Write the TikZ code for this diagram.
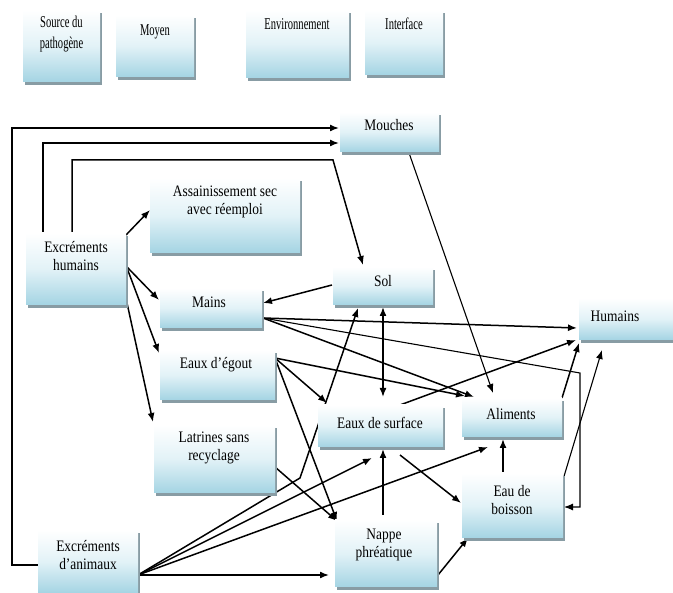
\documentclass[tikz,border=0pt]{standalone}
\usepackage{fontspec}
\newfontfamily\bxfont{Liberation Serif}[FakeStretch=0.84]
\newfontfamily\hdfont{Liberation Serif}[FakeStretch=0.64]
\usetikzlibrary{arrows.meta,shadows,backgrounds}
\definecolor{boxblue}{RGB}{164,212,227}
\definecolor{boxmid}{RGB}{226,242,247}
\definecolor{shc}{RGB}{136,156,164}
\tikzset{
  bx/.style={anchor=north west, inner sep=0pt, outer sep=0pt,
    top color=white, bottom color=boxblue, middle color=boxmid,
    drop shadow={shadow xshift=1.5pt, shadow yshift=-3pt, fill=shc, opacity=1}},
  lbl/.style={font=\bxfont\fontsize{16}{18.5}\selectfont, align=center, inner sep=0pt},
  hd/.style={font=\hdfont\fontsize{16.5}{21}\selectfont, align=center, inner sep=0pt},
  ar/.style={line width=1.5pt, -{Latex[length=9pt,width=7pt]}},
  tn/.style={line width=1.1pt, -{Latex[length=9pt,width=7pt]}},
  dar/.style={line width=1.5pt, {Latex[length=9pt,width=7pt]}-{Latex[length=9pt,width=7pt]}},
}
\newcommand\mkbox[9]{%
  \expandafter\gdef\csname bxX#1\endcsname{#2}%
  \expandafter\gdef\csname bxY#1\endcsname{#3}%
  \node[bx, minimum width=#4pt, minimum height=#5pt] (#1) at (#2,#3) {};
  \node[#8] (#1t) at (#6,#7) {#9};
}
\newcommand\pt[3]{([shift={(#2-\csname bxX#1\endcsname,#3-\csname bxY#1\endcsname)}]#1.north west)}
\begin{document}
\begin{tikzpicture}[x=1pt,y=-1pt]
\useasboundingbox (0,0) rectangle (673,593);
% header row
\mkbox{src}{23}{10}{77}{72}{61.5}{34.5}{hd}{Source du\\pathogène}
\mkbox{moy}{116}{15}{78}{62}{155}{32}{hd}{Moyen}
\mkbox{env}{246}{10}{103}{68}{297}{24}{hd}{Environnement}
\mkbox{itf}{365}{10}{78}{65}{404}{24}{hd}{Interface}
% main boxes
\mkbox{mou}{340}{112}{99}{40}{389}{125}{lbl}{Mouches}
\mkbox{sol}{333}{267}{100}{38}{383}{281}{lbl}{Sol}
\mkbox{hum}{579}{298}{94}{42}{615}{316}{lbl}{Humains}
\mkbox{ass}{150}{178}{150}{75}{225}{202}{lbl}{Assainissement sec\\avec réemploi}
\mkbox{exh}{26}{233}{100}{72}{76}{256}{lbl}{Excréments\\humains}
\mkbox{mai}{160}{288}{102}{40}{209}{302}{lbl}{Mains}
\mkbox{ego}{160}{350}{115}{50}{216}{365}{lbl}{Eaux d’égout}
\mkbox{lat}{154}{425}{121}{68}{214}{448}{lbl}{Latrines sans\\recyclage}
\mkbox{exa}{38}{530}{100}{63}{88}{555}{lbl}{Excréments\\d’animaux}
\mkbox{esu}{318}{405}{125}{42}{380}{423}{lbl}{Eaux de surface}
\mkbox{ali}{462}{398}{100}{39}{511}{414}{lbl}{Aliments}
\mkbox{eab}{462}{473}{101}{65}{512}{500}{lbl}{Eau de\\boisson}
\mkbox{nap}{335}{520}{102}{67}{384}{545}{lbl}{Nappe\\phréatique}
% bend points
\coordinate (c1) at (12,565);
\coordinate (c2) at (12,128);
\coordinate (c3) at (43,143);
\coordinate (c4) at (72,160);
\coordinate (c5) at (333,160);
\coordinate (c6) at (580,373);
\coordinate (c7) at (580,507);
\coordinate (c8) at (300,478);
\begin{pgfonlayer}{background}
\fill[white] (0,0) rectangle (673,593);
\draw[ar] \pt{exa}{38}{565} -- (c1) -- (c2) -- \pt{mou}{339}{128};
\draw[ar] \pt{exh}{43}{233} -- (c3) -- \pt{mou}{339}{143};
\draw[ar] \pt{exh}{72}{233} -- (c4) -- (c5) -- \pt{sol}{363}{265};
\draw[ar] \pt{exh}{126}{235} -- \pt{ass}{150}{210};
\draw[ar] \pt{exh}{127}{267} -- \pt{mai}{159}{300};
\draw[ar] \pt{exh}{127}{268} -- \pt{ego}{159}{353};
\draw[ar] \pt{exh}{127}{303} -- \pt{lat}{153}{422};
\draw[ar] \pt{sol}{332}{285} -- \pt{mai}{263}{303};
\draw[ar] \pt{mai}{263}{318} -- \pt{hum}{577}{328};
\draw[tn] \pt{mai}{263}{318} -- (c6) -- (c7) -- \pt{eab}{564}{507};
\draw[ar] \pt{mai}{263}{318} -- \pt{ali}{474}{397};
\draw[ar] \pt{ego}{275}{358} -- \pt{esu}{327}{403};
\draw[ar] \pt{ego}{275}{358} -- \pt{ali}{465}{396};
\draw[ar] \pt{ego}{275}{358} -- \pt{nap}{337}{521};
\draw[ar] \pt{lat}{275}{467} -- \pt{nap}{337}{521};
\draw[ar] \pt{exa}{138}{575} -- (c8) -- \pt{sol}{358}{308};
\draw[ar] \pt{exa}{138}{575} -- \pt{esu}{372}{458};
\draw[ar] \pt{exa}{138}{575} -- \pt{ali}{488}{447};
\draw[ar] \pt{exa}{138}{575} -- \pt{nap}{329}{575};
\draw[dar] \pt{sol}{383}{307} -- \pt{esu}{383}{397};
\draw[ar] \pt{esu}{400}{405} -- \pt{hum}{576}{340};
\draw[ar] \pt{esu}{400}{455} -- \pt{eab}{461}{503};
\draw[ar] \pt{nap}{383}{515} -- \pt{esu}{383}{449};
\draw[ar] \pt{nap}{438}{575} -- \pt{eab}{468}{538};
\draw[ar] \pt{eab}{503}{472} -- \pt{ali}{503}{439};
\draw[tn] \pt{eab}{562}{483} -- \pt{hum}{602}{350};
\draw[ar] \pt{ali}{562}{398} -- \pt{hum}{579}{343};
\draw[tn] \pt{mou}{408}{150} -- \pt{ali}{493}{393};
\end{pgfonlayer}
\end{tikzpicture}
\end{document}
